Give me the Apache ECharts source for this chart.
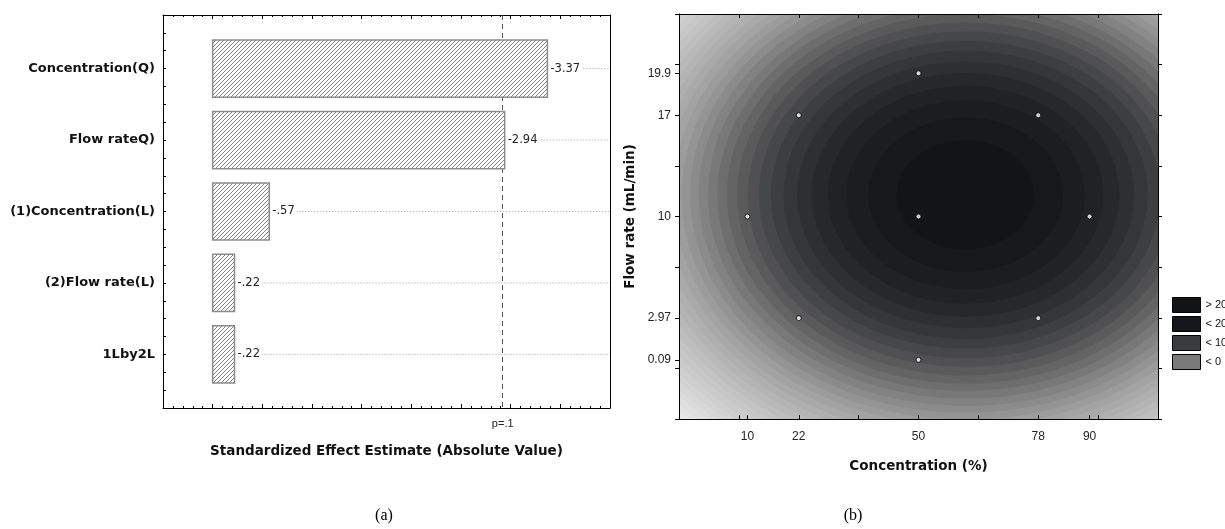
<!DOCTYPE html>
<html>
<head>
<meta charset="utf-8">
<title>Pareto chart and contour plot</title>
<script src="https://cdn.jsdelivr.net/npm/echarts@6/dist/echarts.min.js"></script>
<style>
  html, body { margin: 0; padding: 0; background: #fff; }
  #chart { width: 1225px; height: 529px; }
</style>
</head>
<body>
<div id="chart"></div>
<script>
// (a) Pareto chart of standardized effects
const effectNames = ["Concentration(Q)", "Flow rateQ)", "(1)Concentration(L)", "(2)Flow rate(L)", "1Lby2L"];
const effectValues = [-3.37, -2.94, -0.57, -0.22, -0.22];
const effectLabels = ["-3.37", "-2.94", "-.57", "-.22", "-.22"];
const pCritical = 2.92;

// (b) contour plot
const concLabels = [10, 22, 50, 78, 90];
const flowLabels = [0.09, 2.97, 10, 17, 19.9];
const concTicks = [-6, 8, 22, 36, 50, 64, 78, 92, 106];
const flowTicks = [-4, -0.5, 3, 6.5, 10, 13.5, 17, 20.5, 24];
const designConc = [10, 22, 22, 50, 50, 50, 78, 78, 90];
const designFlow = [10, 17, 2.97, 19.9, 10, 0.09, 17, 2.97, 10];

// contour bands: centre, half-width of each band (in % conc), inner to outer
const surfaceCenter = [61, 11.5];
const bandRadiusConc = [16.1, 22.8, 27.9, 32.2, 36.0, 39.4, 42.6, 45.5, 48.3, 50.9,
  53.4, 55.8, 58.0, 60.2, 62.4, 64.4, 66.4, 68.3, 70.2, 72.0,
  73.8, 75.5, 77.2, 78.9, 80.5, 82.1, 83.7, 85.2, 86.7, 88.2,
  89.6, 91.1, 92.5, 93.9, 95.2];
const bandAspect = 0.234; // flow units per conc unit
const bandColors = ["#131416", "#17181a", "#1c1d1f", "#212224", "#27282a", "#2e2f31", "#353638", "#3d3e40", "#464749", "#505052",
  "#5a5a5b", "#646464", "#6e6e6e", "#787878", "#828282", "#8b8b8b", "#949494", "#9c9c9c", "#a3a3a3", "#a9a9a9",
  "#afafaf", "#b4b4b4", "#b9b9b9", "#bebebe", "#c3c3c3", "#c7c7c7", "#cbcbcb", "#cfcfcf", "#d3d3d3", "#d7d7d7",
  "#dbdbdb", "#dfdfdf", "#e3e3e3", "#e7e7e7", "#ebebeb"];
const outsideColor = "#efefef";

const legendNames = ["> 20", "< 20", "< 10", "< 0"];
const legendColors = ["#121315", "#16171a", "#3a3b3d", "#7a7a7a"];

const FONT = "Liberation Sans, Arial, sans-serif";
const WIDE = "DejaVu Sans, Liberation Sans, sans-serif";

function makeHatch() {
    const size = 4;
    const c = document.createElement("canvas");
    c.width = size;
    c.height = size;
    const ctx = c.getContext("2d");
    ctx.fillStyle = "#fff";
    ctx.fillRect(0, 0, size, size);
    ctx.strokeStyle = "#808080";
    ctx.lineWidth = 1;
    ctx.beginPath();
    ctx.moveTo(0, size);
    ctx.lineTo(size, 0);
    ctx.moveTo(-1, 1);
    ctx.lineTo(1, -1);
    ctx.moveTo(size - 1, size + 1);
    ctx.lineTo(size + 1, size - 1);
    ctx.stroke();
    return c;
}
const hatch = makeHatch();

const chart = echarts.init(document.getElementById("chart"));

const barData = effectValues.map((v, i) => [Math.abs(v), i + 1, i]);

const bandData = bandRadiusConc
    .map((r, i) => [surfaceCenter[0], surfaceCenter[1], r, r * bandAspect, i])
    .reverse();

const designData = designConc.map((c, i) => [c, designFlow[i]]);

const frameLine = { show: true, onZero: false, lineStyle: { color: "#000", width: 1 } };
const nameStyle = { fontFamily: WIDE, fontWeight: "bold", fontSize: 13.5, color: "#111" };

const option = {
    animation: false,
    textStyle: { fontFamily: FONT },
    grid: [
        { left: 163, top: 15, width: 447, height: 393 },
        { left: 679, top: 14, width: 479, height: 405, show: true, backgroundColor: outsideColor, borderWidth: 0 },
    ],
    legend: {
        orient: "vertical",
        left: 1167,
        top: 292,
        itemWidth: 28,
        itemHeight: 15,
        itemGap: 3,
        icon: "rect",
        selectedMode: false,
        itemStyle: { borderColor: "#000", borderWidth: 1 },
        textStyle: { fontSize: 11, color: "#111" },
        data: legendNames,
    },
    xAxis: [
        {
            gridIndex: 0,
            type: "value",
            position: "bottom",
            min: -0.5,
            max: 4,
            interval: 0.5,
            axisLine: frameLine,
            axisTick: { inside: true, length: 4, lineStyle: { color: "#000" } },
            minorTick: { show: true, splitNumber: 5, length: 2, lineStyle: { color: "#000" } },
            splitLine: { show: false },
            axisLabel: {
                customValues: [pCritical],
                formatter: () => "p=.1",
                fontSize: 11,
                color: "#222",
                margin: 10,
            },
            name: "Standardized Effect Estimate (Absolute Value)",
            nameLocation: "middle",
            nameGap: 36,
            nameTextStyle: nameStyle,
        },
        {
            gridIndex: 0,
            type: "value",
            position: "top",
            min: -0.5,
            max: 4,
            interval: 0.5,
            axisLine: frameLine,
            axisTick: { inside: true, length: 4, lineStyle: { color: "#000" } },
            minorTick: { show: true, splitNumber: 5, length: 2, lineStyle: { color: "#000" } },
            splitLine: { show: false },
            axisLabel: { show: false },
        },
        {
            gridIndex: 1,
            type: "value",
            position: "bottom",
            z: 10,
            min: -6,
            max: 106,
            axisLine: frameLine,
            axisTick: { inside: true, length: 4, customValues: concTicks.concat(concLabels), lineStyle: { color: "#000" } },
            splitLine: { show: false },
            axisLabel: { customValues: concLabels, fontSize: 12, color: "#222", margin: 12 },
            name: "Concentration (%)",
            nameLocation: "middle",
            nameGap: 40,
            nameTextStyle: nameStyle,
        },
        {
            gridIndex: 1,
            type: "value",
            position: "top",
            z: 10,
            min: -6,
            max: 106,
            axisLine: frameLine,
            axisTick: { inside: true, length: 4, customValues: concTicks, lineStyle: { color: "#000" } },
            splitLine: { show: false },
            axisLabel: { show: false },
        },
    ],
    yAxis: [
        {
            gridIndex: 0,
            type: "value",
            inverse: true,
            min: 0.25,
            max: 5.75,
            interval: 0.25,
            axisLine: frameLine,
            axisTick: { inside: true, length: 3, lineStyle: { color: "#000" } },
            splitLine: { show: false },
            axisLabel: {
                customValues: [1, 2, 3, 4, 5],
                formatter: (v) => effectNames[Math.round(v) - 1],
                fontFamily: WIDE,
                fontWeight: "bold",
                fontSize: 13,
                color: "#111",
                margin: 8,
            },
        },
        {
            gridIndex: 0,
            type: "value",
            position: "right",
            inverse: true,
            min: 0.25,
            max: 5.75,
            axisLine: frameLine,
            axisTick: { show: false },
            splitLine: { show: false },
            axisLabel: { show: false },
        },
        {
            gridIndex: 1,
            type: "value",
            position: "left",
            z: 10,
            min: -4,
            max: 24,
            axisLine: frameLine,
            axisTick: { inside: false, length: 4, customValues: flowTicks.concat(flowLabels), lineStyle: { color: "#000" } },
            splitLine: { show: false },
            axisLabel: { customValues: flowLabels, fontSize: 12, color: "#222", margin: 8 },
            name: "Flow rate (mL/min)",
            nameLocation: "middle",
            nameGap: 42,
            nameTextStyle: nameStyle,
        },
        {
            gridIndex: 1,
            type: "value",
            position: "right",
            z: 10,
            min: -4,
            max: 24,
            axisLine: frameLine,
            axisTick: { inside: false, length: 4, customValues: flowTicks, lineStyle: { color: "#000" } },
            splitLine: { show: false },
            axisLabel: { show: false },
        },
    ],
    series: [
        {
            // p = .1 reference line
            type: "line",
            xAxisIndex: 0,
            yAxisIndex: 0,
            data: [],
            z: 1,
            markLine: {
                silent: true,
                symbol: "none",
                z: 1,
                label: { show: false },
                lineStyle: { color: "#555", width: 1, type: [5, 4] },
                data: [{ xAxis: pCritical }],
            },
        },
        {
            type: "custom",
            xAxisIndex: 0,
            yAxisIndex: 0,
            z: 3,
            data: barData,
            renderItem: (params, api) => {
                const row = api.value(1);
                const start = api.coord([0, row]);
                const end = api.coord([api.value(0), row]);
                const h = api.size([0, 0.8])[1];
                const right = params.coordSys.x + params.coordSys.width;
                return {
                    type: "group",
                    children: [
                        {
                            type: "line",
                            shape: { x1: end[0], y1: end[1], x2: right, y2: end[1] },
                            style: { stroke: "#9a9a9a", lineWidth: 1, lineDash: [1, 2] },
                        },
                        {
                            type: "rect",
                            shape: { x: start[0], y: end[1] - h / 2, width: end[0] - start[0], height: h },
                            style: { fill: { image: hatch, repeat: "repeat" }, stroke: "#8c8c8c", lineWidth: 1.5 },
                        },
                        {
                            type: "text",
                            x: end[0] + 2,
                            y: end[1],
                            style: {
                                text: effectLabels[api.value(2)],
                                align: "left",
                                verticalAlign: "middle",
                                fill: "#222",
                                font: "11.5px " + WIDE,
                                backgroundColor: "#fff",
                                padding: [0, 2, 0, 1],
                            },
                        },
                    ],
                };
            },
        },
        {
            type: "custom",
            xAxisIndex: 2,
            yAxisIndex: 2,
            clip: true,
            silent: true,
            z: 2,
            data: bandData,
            renderItem: (params, api) => {
                const c = api.coord([api.value(0), api.value(1)]);
                const s = api.size([api.value(2), api.value(3)]);
                return {
                    type: "circle",
                    x: c[0],
                    y: c[1],
                    scaleX: s[0] / s[1],
                    shape: { cx: 0, cy: 0, r: s[1] },
                    style: { fill: bandColors[api.value(4)] },
                };
            },
        },
        {
            type: "scatter",
            xAxisIndex: 2,
            yAxisIndex: 2,
            z: 5,
            symbol: "circle",
            symbolSize: 5,
            itemStyle: { color: "#fff", borderColor: "#000", borderWidth: 1 },
            data: designData,
        },
    ].concat(
        legendNames.map((name, i) => ({
            name: name,
            type: "custom",
            xAxisIndex: 2,
            yAxisIndex: 2,
            data: [],
            itemStyle: { color: legendColors[i] },
            renderItem: () => null,
        }))
    ),
    graphic: [
        { type: "text", x: 384, y: 516, style: { text: "(a)", font: "16px Liberation Serif, Times New Roman, serif", fill: "#000", align: "center", verticalAlign: "middle" } },
        { type: "text", x: 853, y: 516, style: { text: "(b)", font: "16px Liberation Serif, Times New Roman, serif", fill: "#000", align: "center", verticalAlign: "middle" } },
    ],
};

chart.setOption(option);
</script>
</body>
</html>
